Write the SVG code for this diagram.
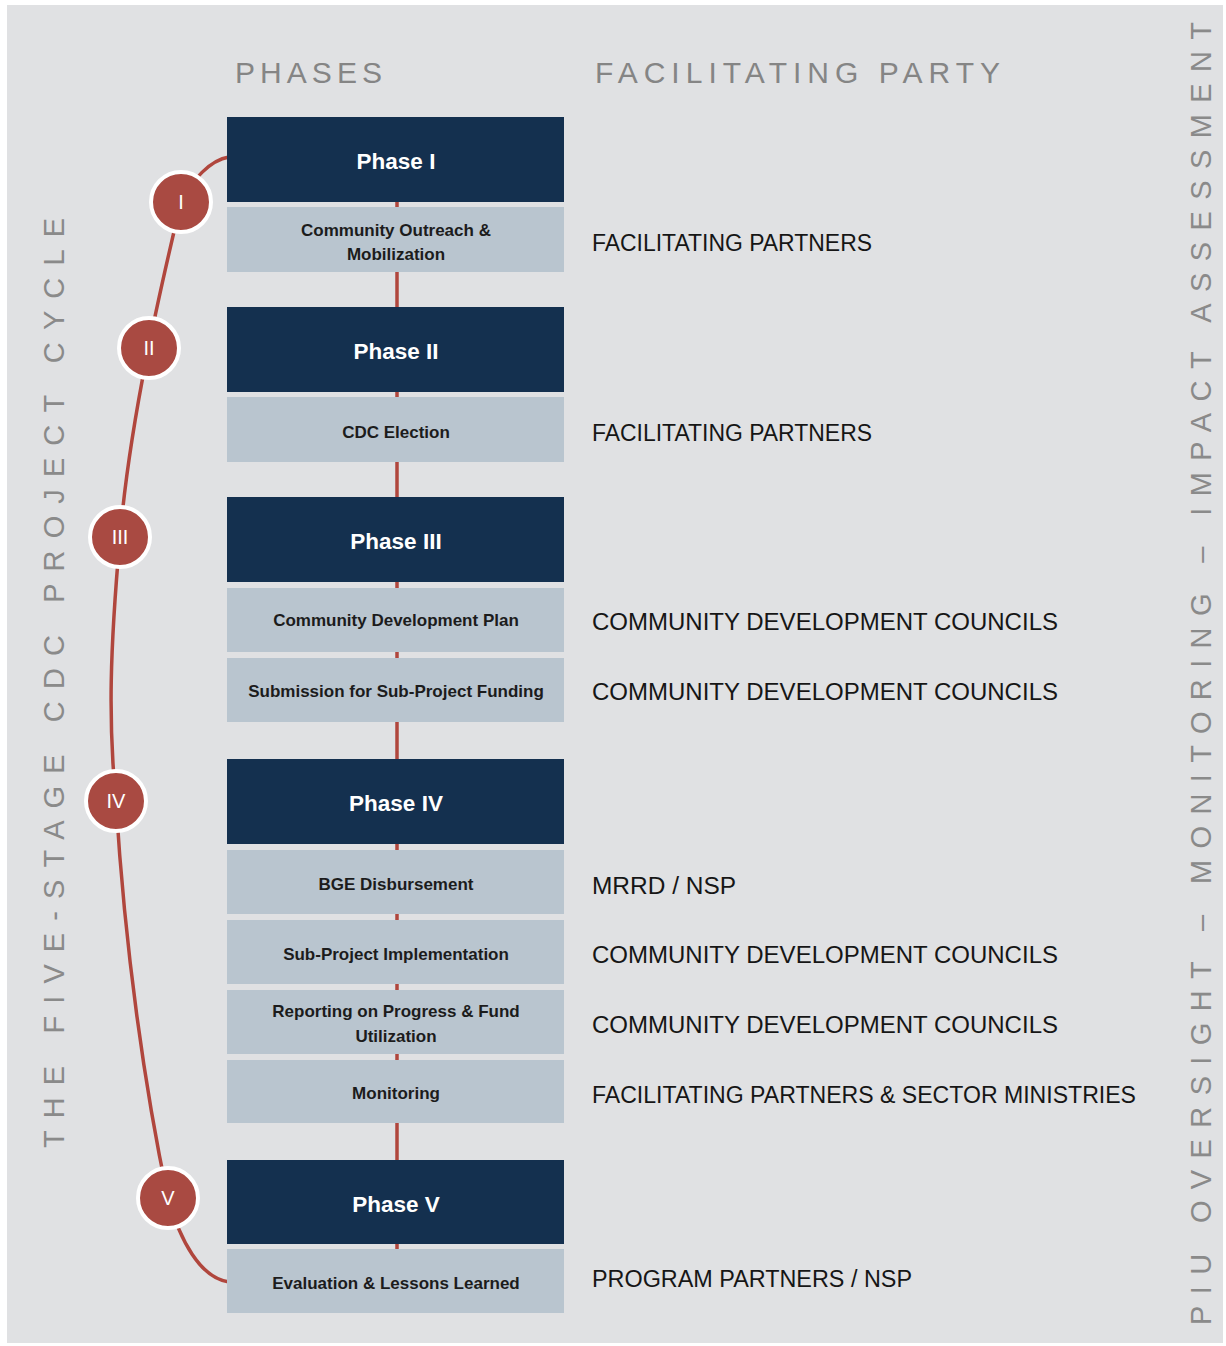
<svg xmlns="http://www.w3.org/2000/svg" width="1226" height="1346" viewBox="0 0 1226 1346">
<style>
.hd{font-family:"Liberation Sans",Arial,sans-serif;font-size:30px;fill:#858585}
.vt{font-family:"Liberation Sans",Arial,sans-serif;font-size:29px;fill:#8a8a8a}
.ph{fill:#14304f}
.sb{fill:#b9c5cf}
.pt{font-family:"Liberation Sans",Arial,sans-serif;font-size:22.5px;font-weight:bold;fill:#ffffff;text-anchor:middle}
.st{font-family:"Liberation Sans",Arial,sans-serif;font-size:17px;font-weight:bold;fill:#1c1c1c;text-anchor:middle}
.rt{font-family:"Liberation Sans",Arial,sans-serif;font-size:23px;fill:#161616}
.cc{fill:#a94a42;stroke:#ffffff;stroke-width:4}
.ct{font-family:"Liberation Sans",Arial,sans-serif;font-size:20px;fill:#ffffff;text-anchor:middle}
.ln{fill:none;stroke:#b0463d;stroke-width:3.5}
</style>
<rect x="0" y="0" width="1226" height="1346" fill="#ffffff"/>
<rect x="7" y="5" width="1216" height="1338" fill="#e0e1e3"/>
<text class="hd" x="235" y="83" textLength="147" lengthAdjust="spacing">PHASES</text>
<text class="hd" x="595" y="83" textLength="405" lengthAdjust="spacing">FACILITATING PARTY</text>
<text class="vt" transform="translate(64,1148) rotate(-90)" x="0" y="0" textLength="930" lengthAdjust="spacing">THE FIVE-STAGE CDC PROJECT CYCLE</text>
<text class="vt" transform="translate(1211,1325) rotate(-90)" x="0" y="0" textLength="1303" lengthAdjust="spacing">PIU OVERSIGHT – MONITORING – IMPACT ASSESSMENT</text>
<g id="connectors">
<line class="ln" x1="397" y1="200" x2="397" y2="1250"/>
<path class="ln" d="M 229 157 C 210 160 192 180 181 202 C 160 290 130 420 120 537 C 110 650 108 720 116 802 C 125 950 145 1090 168 1198 C 180 1240 200 1278 229 1282"/>
</g>
<g id="phase1">
<rect class="ph" x="227" y="117" width="337" height="85"/>
<text class="pt" x="396" y="169">Phase I</text>
</g>
<g id="task-outreach">
<rect class="sb" x="227" y="207" width="337" height="65"/>
<text class="st" x="396" y="236">Community Outreach &amp;</text>
<text class="st" x="396" y="260">Mobilization</text>
</g>
<g id="phase2">
<rect class="ph" x="227" y="307" width="337" height="85"/>
<text class="pt" x="396" y="359">Phase II</text>
</g>
<g id="task-election">
<rect class="sb" x="227" y="397" width="337" height="65"/>
<text class="st" x="396" y="438">CDC Election</text>
</g>
<g id="phase3">
<rect class="ph" x="227" y="497" width="337" height="85"/>
<text class="pt" x="396" y="549">Phase III</text>
</g>
<g id="task-cdp">
<rect class="sb" x="227" y="588" width="337" height="64"/>
<text class="st" x="396" y="626">Community Development Plan</text>
</g>
<g id="task-submission">
<rect class="sb" x="227" y="658" width="337" height="64"/>
<text class="st" x="396" y="697">Submission for Sub-Project Funding</text>
</g>
<g id="phase4">
<rect class="ph" x="227" y="759" width="337" height="85"/>
<text class="pt" x="396" y="811">Phase IV</text>
</g>
<g id="task-bge">
<rect class="sb" x="227" y="850" width="337" height="64"/>
<text class="st" x="396" y="890">BGE Disbursement</text>
</g>
<g id="task-implementation">
<rect class="sb" x="227" y="920" width="337" height="64"/>
<text class="st" x="396" y="960">Sub-Project Implementation</text>
</g>
<g id="task-reporting">
<rect class="sb" x="227" y="990" width="337" height="64"/>
<text class="st" x="396" y="1017">Reporting on Progress &amp; Fund</text>
<text class="st" x="396" y="1042">Utilization</text>
</g>
<g id="task-monitoring">
<rect class="sb" x="227" y="1060" width="337" height="63"/>
<text class="st" x="396" y="1099">Monitoring</text>
</g>
<g id="phase5">
<rect class="ph" x="227" y="1160" width="337" height="84"/>
<text class="pt" x="396" y="1212">Phase V</text>
</g>
<g id="task-evaluation">
<rect class="sb" x="227" y="1249" width="337" height="64"/>
<text class="st" x="396" y="1289">Evaluation &amp; Lessons Learned</text>
</g>
<g id="parties">
<text class="rt" x="592" y="251" textLength="280" lengthAdjust="spacingAndGlyphs">FACILITATING PARTNERS</text>
<text class="rt" x="592" y="441" textLength="280" lengthAdjust="spacingAndGlyphs">FACILITATING PARTNERS</text>
<text class="rt" x="592" y="630" textLength="466" lengthAdjust="spacingAndGlyphs">COMMUNITY DEVELOPMENT COUNCILS</text>
<text class="rt" x="592" y="700" textLength="466" lengthAdjust="spacingAndGlyphs">COMMUNITY DEVELOPMENT COUNCILS</text>
<text class="rt" x="592" y="894" textLength="144" lengthAdjust="spacingAndGlyphs">MRRD / NSP</text>
<text class="rt" x="592" y="963" textLength="466" lengthAdjust="spacingAndGlyphs">COMMUNITY DEVELOPMENT COUNCILS</text>
<text class="rt" x="592" y="1033" textLength="466" lengthAdjust="spacingAndGlyphs">COMMUNITY DEVELOPMENT COUNCILS</text>
<text class="rt" x="592" y="1103" textLength="544" lengthAdjust="spacingAndGlyphs">FACILITATING PARTNERS &amp; SECTOR MINISTRIES</text>
<text class="rt" x="592" y="1287" textLength="320" lengthAdjust="spacingAndGlyphs">PROGRAM PARTNERS / NSP</text>
</g>
<g id="stage1"><circle class="cc" cx="181" cy="202" r="30"/><text class="ct" x="181" y="209">I</text></g>
<g id="stage2"><circle class="cc" cx="149" cy="348" r="30"/><text class="ct" x="149" y="355">II</text></g>
<g id="stage3"><circle class="cc" cx="120" cy="537" r="30"/><text class="ct" x="120" y="544">III</text></g>
<g id="stage4"><circle class="cc" cx="116" cy="801" r="30"/><text class="ct" x="116" y="808">IV</text></g>
<g id="stage5"><circle class="cc" cx="168" cy="1198" r="30"/><text class="ct" x="168" y="1205">V</text></g>
</svg>
